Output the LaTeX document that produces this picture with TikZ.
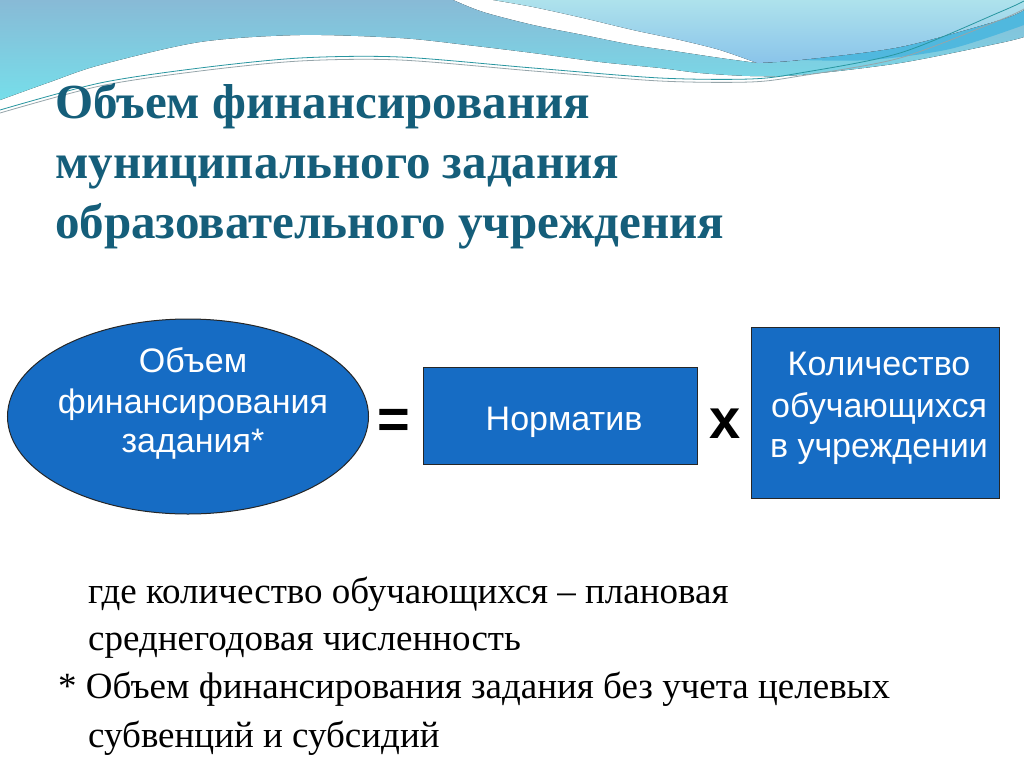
\documentclass[tikz,border=0pt]{standalone}
\usepackage{fontspec}
\setmainfont{Liberation Serif}
\newfontfamily\arialf{Liberation Sans}
\usetikzlibrary{shapes.geometric}
\definecolor{boxblue}{RGB}{22,108,196}
\definecolor{titlecol}{RGB}{21,94,122}
\definecolor{waveAtop}{RGB}{136,186,214}
\definecolor{waveAbot}{RGB}{118,222,234}
\definecolor{waveBtop}{RGB}{174,226,236}
\definecolor{waveBbot}{RGB}{138,196,234}
\definecolor{waveD}{RGB}{80,184,222}
\definecolor{lineteal}{RGB}{40,150,160}
\definecolor{linegray}{RGB}{150,165,170}
\tikzset{
  shapebox/.style={fill=boxblue, draw=black!85, line width=1pt},
  ellipsebox/.style={shapebox, ellipse, inner sep=0pt},
  rectbox/.style={shapebox, rectangle, inner sep=0pt},
  intext/.style={text=white, anchor=base, inner sep=0pt, font=\arialf\fontsize{34}{40}\selectfont},
  titletext/.style={text=titlecol, anchor=base west, inner sep=0pt, font=\bfseries\fontsize{49}{60}\selectfont},
  bodytext/.style={text=black, anchor=base west, inner sep=0pt, font=\fontsize{37}{48}\selectfont},
  optext/.style={text=black, anchor=base, inner sep=0pt, font=\arialf\bfseries\fontsize{56}{60}\selectfont}
}
\begin{document}
\begin{tikzpicture}[x=1pt,y=-1pt]
\useasboundingbox (0,0) rectangle (1024,768);
\fill[white] (0,0) rectangle (1024,768);
% wave region A/C
\fill[top color=waveAtop, bottom color=waveAbot]
  (0,0) -- (453,0)
  -- plot[smooth] coordinates {(453,0) (483,12) (533,25) (583,35) (633,45) (680,52) (720,58) (757,63)}
  -- plot[smooth] coordinates {(757,63) (800,60) (900,47) (1000,20) (1024,10)}
  -- (1024,37)
  -- plot[smooth] coordinates {(1024,37) (1000,43) (900,63) (800,75) (750,76) (700,73) (660,68) (600,62) (533,53) (467,45) (400,38) (300,35) (200,42) (100,65) (50,82) (0,100)}
  -- cycle;
% darker band at right
\fill[waveD]
  plot[smooth] coordinates {(800,60) (900,47) (1000,20) (1024,10)}
  -- (1024,25)
  -- plot[smooth] coordinates {(1024,25) (950,49) (870,60) (800,60)} -- cycle;
% region B
\fill[top color=waveBtop, bottom color=waveBbot]
  (493,0)
  -- plot[smooth] coordinates {(493,0) (533,7) (583,18) (633,30) (680,40) (720,50) (757,63)}
  -- plot[smooth] coordinates {(757,63) (800,60) (900,47) (1000,20) (1024,10)}
  -- (1024,0) -- cycle;
% thin lines
\draw[linegray, line width=0.8pt] plot[smooth] coordinates {(0,113) (100,86) (200,71) (300,61) (400,60) (533,71) (660,81) (750,82) (800,76) (900,58) (1000,20) (1024,9)};
\draw[lineteal, line width=0.8pt] plot[smooth] coordinates {(0,110) (100,83) (200,68) (300,58) (400,57) (533,68) (660,78) (750,79) (800,73) (900,53) (1000,12) (1024,1)};

% title
\node[titletext] (t1) at (55,118) {Объем финансирования};
\node[titletext] (t2) at (55,178) {муниципального задания};
\node[titletext] (t3) at (55,238) {образовательного учреждения};

% shapes
\node[ellipsebox, minimum width=361pt, minimum height=195pt] (ell) at (188,416.5) {};
\node[rectbox, minimum width=274pt, minimum height=97pt] (norm) at (560,415.5) {};
\node[rectbox, minimum width=248pt, minimum height=171pt] (qty) at (875,412.5) {};

% ellipse text
\node[intext] (e1) at (193,372) {Объем};
\node[intext] (e2) at (193,413) {финансирования};
\node[intext] (e3) at (193,452) {задания*};
% norm text
\node[intext] (n1) at (564,430) {Норматив};
% qty text
\node[intext] (q1) at (879,375) {Количество};
\node[intext] (q2) at (879,417) {обучающихся};
\node[intext] (q3) at (879,457) {в учреждении};

% operators
\node[optext] (eq) at (394,438) {=};
\node[optext] (mul) at (725,438) {x};

% bottom text
\node[bodytext] (b1) at (88,603) {где количество обучающихся – плановая};
\node[bodytext] (b2) at (88,650) {среднегодовая численность};
\node[bodytext] (b3) at (58,698) {* Объем финансирования задания без учета целевых};
\node[bodytext] (b4) at (88,747) {субвенций и субсидий};
\end{tikzpicture}
\end{document}
